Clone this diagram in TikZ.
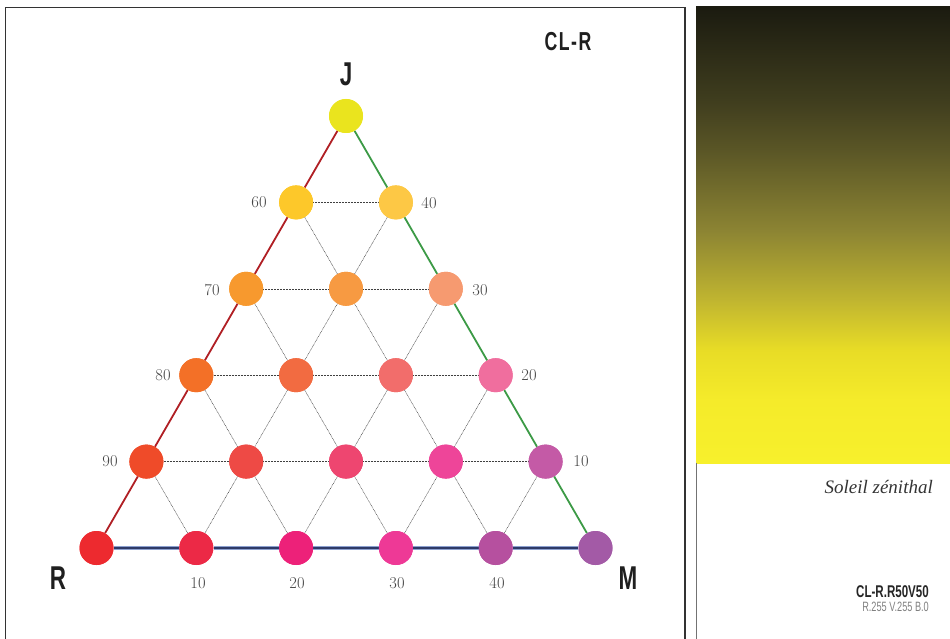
\documentclass[tikz,border=0pt]{standalone}
\usepackage{fontspec}
\newfontfamily\condb[FakeStretch=0.68]{Liberation Sans}
\newfontfamily\scriptf{Liberation Serif}
\definecolor{c00}{HTML}{EAE41E}
\definecolor{c10}{HTML}{FDC82A}
\definecolor{c11}{HTML}{FDC845}
\definecolor{c20}{HTML}{F7992E}
\definecolor{c21}{HTML}{F79A42}
\definecolor{c22}{HTML}{F69A70}
\definecolor{c30}{HTML}{F37027}
\definecolor{c31}{HTML}{F26B41}
\definecolor{c32}{HTML}{F26D6B}
\definecolor{c33}{HTML}{F06E9E}
\definecolor{c40}{HTML}{EF4B29}
\definecolor{c41}{HTML}{EE4A45}
\definecolor{c42}{HTML}{EE4670}
\definecolor{c43}{HTML}{EE4599}
\definecolor{c44}{HTML}{C45AA6}
\definecolor{c50}{HTML}{ED2A2F}
\definecolor{c51}{HTML}{EC2946}
\definecolor{c52}{HTML}{ED2179}
\definecolor{c53}{HTML}{EE3996}
\definecolor{c54}{HTML}{B6509F}
\definecolor{c55}{HTML}{A35AA6}
\definecolor{redline}{HTML}{B01F24}
\definecolor{greenline}{HTML}{3C9A46}
\definecolor{navyline}{HTML}{2E3A68}
\definecolor{navyshadow}{HTML}{8CA0CF}
\definecolor{numgray}{HTML}{444444}
\definecolor{frame}{HTML}{333333}
\definecolor{g0}{HTML}{F7F02C}
\definecolor{g1}{HTML}{F5EB2A}
\definecolor{g2}{HTML}{E8DC26}
\definecolor{g3}{HTML}{C0B530}
\definecolor{g4}{HTML}{8C8433}
\definecolor{g5}{HTML}{5A5626}
\definecolor{g6}{HTML}{3F3D1E}
\definecolor{g7}{HTML}{1B1B10}
\pgfdeclareverticalshading{sky}{100bp}{color(0bp)=(g0); color(25bp)=(g0); color(31.9bp)=(g1); color(37.4bp)=(g2); color(42.9bp)=(g3); color(50.5bp)=(g4); color(59.3bp)=(g5); color(64.8bp)=(g6); color(75bp)=(g7); color(100bp)=(g7)}
\begin{document}
\begin{tikzpicture}[x=1pt,y=-1pt,
  dot/.style={circle,minimum size=34pt,inner sep=0pt,fill=#1},
  inner/.style={line width=0.5pt,dash pattern=on 0.8pt off 0.7pt,color=black!75},
  num/.style={font=\fontsize{16.5}{16.5}\selectfont,text=numgray,inner sep=0pt},
  vert/.style={font=\condb\bfseries\fontsize{33}{33}\selectfont,text=black!88,inner sep=0pt}]
\useasboundingbox (0,0) rectangle (950,639);
% frames
\draw[frame,line width=1.2pt] (5.5,639) -- (5.5,7.5) -- (685,7.5) -- (685,639);
\shade[shading=sky] (696,7) rectangle (950,463);
\draw[black!55,line width=1pt] (696.5,463) -- (696.5,639);
% nodes
\foreach \r in {0,...,5}{
  \foreach \k in {0,...,\r}{
    \node[dot=c\r\k] (n\r\k) at ({346+(\k-\r/2)*99.8},{116+\r*86.4}) {};
  }
}
% inner dotted lines
\foreach \r in {1,...,4}{
  \pgfmathtruncatemacro\last{\r-1}
  \foreach \k in {0,...,\last}{
    \pgfmathtruncatemacro\kk{\k+1}
    \draw[inner] (n\r\k) -- (n\r\kk);
  }
}
\foreach \r in {1,...,4}{
  \pgfmathtruncatemacro\rr{\r+1}
  \foreach \k in {0,...,\r}{
    \pgfmathtruncatemacro\kk{\k+1}
    \ifnum\k>0 \draw[inner] (n\r\k) -- (n\rr\k);\fi
    \ifnum\k<\r \draw[inner] (n\r\k) -- (n\rr\kk);\fi
  }
}
% outer edges
\draw[redline,line width=1.8pt] (n00) -- (n10) -- (n20) -- (n30) -- (n40) -- (n50);
\draw[greenline,line width=1.8pt] (n00) -- (n11) -- (n22) -- (n33) -- (n44) -- (n55);
\draw[navyshadow,line width=3.4pt] (n50) -- (n51) -- (n52) -- (n53) -- (n54) -- (n55);
\draw[navyline,line width=2pt] (n50) -- (n51) -- (n52) -- (n53) -- (n54) -- (n55);
\foreach \r in {0,...,5}{
  \foreach \k in {0,...,\r}{
    \fill[c\r\k] (n\r\k) circle (17);
  }
}
% vertex labels
\node[vert] (lJ) at (346,74) {J};
\node[vert] (lR) at (58,578) {R};
\node[vert] (lM) at (628,578) {M};
\node[font=\condb\bfseries\fontsize{26}{26}\selectfont,text=black!88,inner sep=0pt] (title) at (568,42) {C\kern1.5pt L\kern1.5pt -\kern1.5pt R};
% scale numbers
\node[num] (a60) at (259,202) {60};
\node[num] (a70) at (212,290) {70};
\node[num] (a80) at (163,375) {80};
\node[num] (a90) at (110,461) {90};
\node[num] (b40) at (429,203) {40};
\node[num] (b30) at (480,290) {30};
\node[num] (b20) at (529,375) {20};
\node[num] (b10) at (581,461) {10};
\node[num] (c10l) at (198,583) {10};
\node[num] (c20l) at (297,583) {20};
\node[num] (c30l) at (397,583) {30};
\node[num] (c40l) at (497,583) {40};
% right panel texts
\node[anchor=east,inner sep=0pt,font=\scriptf\itshape\fontsize{19}{19}\selectfont,text=black!80] (name) at (933,487) {Soleil zénithal};
\node[anchor=east,inner sep=0pt,font=\condb\bfseries\fontsize{17}{17}\selectfont,text=black!85] (code) at (929,592) {CL-R.R50V50};
\node[anchor=east,inner sep=0pt,font=\condb\fontsize{13.5}{13.5}\selectfont,text=black!50] (rgb) at (929,607) {R.255 V.255 B.0};
\end{tikzpicture}
\end{document}
